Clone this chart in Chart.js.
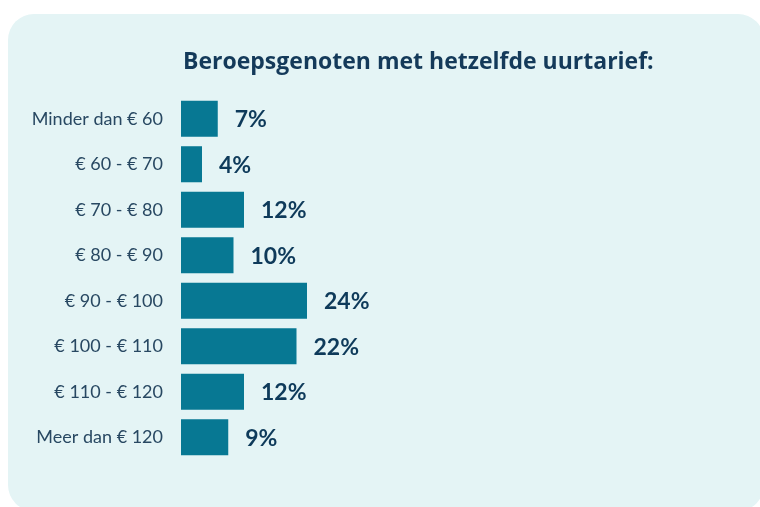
<!DOCTYPE html>
<html><head><meta charset="utf-8">
<script src="https://cdn.jsdelivr.net/npm/chart.js@4/dist/chart.umd.min.js"></script>
<style>
html,body{margin:0;padding:0;background:#fff;}
#wrap{position:relative;width:760px;height:507px;overflow:hidden;}
#panel{position:absolute;left:8px;top:14px;width:756px;height:497px;background:#e4f4f5;border-radius:26px;}
canvas{position:absolute;left:0;top:0;}
</style></head>
<body>
<div id="wrap"><div id="panel"></div><canvas id="c" width="760" height="507"></canvas></div>
<script>
const titleText = "Beroepsgenoten met hetzelfde uurtarief:";
const categories = ["Minder dan € 60","€ 60 - € 70","€ 70 - € 80","€ 80 - € 90","€ 90 - € 100","€ 100 - € 110","€ 110 - € 120","Meer dan € 120"];
const percentages = [7,4,12,10,24,22,12,9];

const labelPlugin = {
  id:'labels',
  afterDatasetsDraw(chart){
    const ctx = chart.ctx;
    ctx.save();
    ctx.fillStyle = '#0e3a5a';
    ctx.font = 'bold 23px Lato';
    ctx.textAlign = 'left';
    ctx.textBaseline = 'middle';
    chart.getDatasetMeta(0).data.forEach((bar,i)=>{
      ctx.fillText(percentages[i] + '%', bar.x + 17, bar.y + 1);
    });
    ctx.font = 'bold 23px "Open Sans"';
    ctx.fillStyle = '#143a5a';
    ctx.textBaseline = 'alphabetic';
    ctx.fillText(titleText, 183, 69);
    ctx.restore();
  }
};

new Chart(document.getElementById('c'), {
  type:'bar',
  data:{labels:categories, datasets:[{data:percentages, backgroundColor:'#077893', categoryPercentage:0.8, barPercentage:0.99}]},
  options:{
    indexAxis:'y', responsive:false, animation:false,
    layout:{padding:{top:96,bottom:47,left:0,right:54}},
    plugins:{legend:{display:false}, tooltip:{enabled:false}},
    scales:{
      x:{display:false,min:0,max:100},
      y:{
        grid:{display:false, drawTicks:false}, border:{display:false},
        afterFit(s){ s.width = 181; },
        ticks:{padding:18, color:'#284862', font:{family:'Lato', size:18}}
      }
    }
  },
  plugins:[labelPlugin]
});
</script>
</body></html>
